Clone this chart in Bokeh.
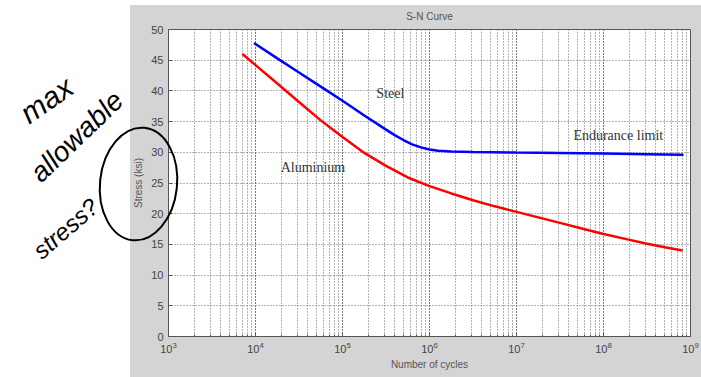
from bokeh.plotting import figure
from bokeh.models import Label, FixedTicker, LogTicker, Range1d, Row, Div
from bokeh.embed import file_html
from bokeh.resources import INLINE

# ---- data ----
steel_cycles = [9.6e3, 1.78e4, 3.16e4, 5.62e4, 1.0e5, 1.78e5, 3.16e5, 3.98e5, 5.01e5, 6.31e5,
                7.94e5, 1.0e6, 1.26e6, 1.78e6, 3.16e6, 1.0e7, 3.16e7, 1.0e8, 3.16e8, 8.3e8]
steel_stress = [47.8, 45.3, 43.0, 40.7, 38.4, 36.0, 33.7, 32.8, 32.0, 31.3,
                30.8, 30.45, 30.27, 30.15, 30.05, 29.95, 29.9, 29.8, 29.7, 29.6]

alu_cycles = [7.08e3, 1.0e4, 1.78e4, 3.16e4, 5.62e4, 1.0e5, 1.78e5, 3.16e5, 5.62e5, 1.0e6,
              1.78e6, 3.16e6, 5.62e6, 1.0e7, 1.78e7, 3.16e7, 5.62e7, 1.0e8, 1.78e8, 3.16e8,
              5.62e8, 8.1e8]
alu_stress = [46.0, 44.2, 41.2, 38.2, 35.2, 32.5, 29.9, 27.8, 25.9, 24.5,
              23.3, 22.2, 21.2, 20.3, 19.4, 18.5, 17.6, 16.7, 15.9, 15.1,
              14.4, 14.0]

y_ticks = [0, 5, 10, 15, 20, 25, 30, 35, 40, 45, 50]

curve_labels = ["Steel", "Endurance limit", "Aluminium"]
note_words = ["max", "allowable", "stress?"]

W, H = 701, 377
PANEL = "#d4d4d4"
GRID = "#666666"

# ---------------- main chart ----------------
p = figure(width=W, height=H, x_axis_type="log",
           x_range=Range1d(1e3, 1e9), y_range=Range1d(0, 50),
           output_backend="svg", toolbar_location=None,
           min_border_left=168, min_border_right=11, min_border_top=28, min_border_bottom=41,
           border_fill_color=PANEL, background_fill_color="white")
p.outline_line_color = "#555555"

p.title.text = "S-N Curve"
p.title.align = "center"
p.title.text_font = "Liberation Sans"
p.title.text_font_size = "10px"
p.title.text_font_style = "normal"
p.title.text_color = "#555555"
p.title.offset = -6
p.title.standoff = 16

p.xaxis.ticker = LogTicker(num_minor_ticks=10)
p.yaxis.ticker = FixedTicker(ticks=y_ticks)
for ax in (p.xaxis[0], p.yaxis[0]):
    ax.major_tick_in = 4
    ax.major_tick_out = 0
    ax.minor_tick_in = 2
    ax.minor_tick_out = 0
    ax.axis_line_color = "#555555"
    ax.major_tick_line_color = "#555555"
    ax.minor_tick_line_color = "#555555"
    ax.major_label_text_font = "Liberation Sans"
    ax.major_label_text_font_size = "11px"
    ax.major_label_text_color = "#444444"
    ax.axis_label_text_font = "Liberation Sans"
    ax.axis_label_text_font_size = "10px"
    ax.axis_label_text_font_style = "normal"
    ax.axis_label_text_color = "#555555"
p.yaxis.minor_tick_line_color = None
p.xaxis.axis_label = "Number of cycles"
p.yaxis.axis_label = "Stress (ksi)"
p.xaxis.major_label_standoff = 5
p.yaxis.major_label_standoff = 5
p.xaxis.axis_label_standoff = 3
p.yaxis.axis_label_standoff = 4

p.xgrid.grid_line_color = GRID
p.xgrid.grid_line_dash = "1 2"
p.xgrid.minor_grid_line_color = GRID
p.xgrid.minor_grid_line_dash = "1 2"
p.ygrid.grid_line_color = GRID
p.ygrid.grid_line_dash = "1 2"

p.line(steel_cycles, steel_stress, line_color="#0000ff", line_width=2.5)
p.line(alu_cycles, alu_stress, line_color="#ff0000", line_width=2.5)

for txt, x, y in zip(curve_labels, [3.55e5, 1.48e8, 4.57e4], [39.5, 32.8, 27.5]):
    p.add_layout(Label(x=x, y=y, text=txt, text_font="Liberation Serif", text_font_size="14px",
                       text_color="#333333", text_align="center", text_baseline="middle"))

# ---------------- handwritten note, overlaid on the page ----------------
words_svg = ""
for word, (x, y, rot, fs) in zip(note_words, [(48, 102, -35, 30), (78, 138, -44, 28), (67, 230, -41, 24)]):
    words_svg += (f'<text x="{x}" y="{y}" transform="rotate({rot} {x} {y})" '
                  f'font-family="Liberation Sans" font-style="italic" font-size="{fs}" '
                  f'fill="black" text-anchor="middle" dominant-baseline="middle">{word}</text>')

svg = (f'<svg xmlns="http://www.w3.org/2000/svg" width="{W}" height="{H}" style="display:block">'
       f'<rect x="0" y="0" width="130" height="{H}" fill="white"/>'
       f'<rect x="0" y="0" width="{W}" height="5" fill="white"/>'
       f'{words_svg}'
       f'<ellipse cx="138.5" cy="184" rx="38.5" ry="56.5" transform="rotate(6 138.5 184)" '
       f'fill="none" stroke="black" stroke-width="2"/>'
       f'</svg>')

note = Div(text=svg, width=W, height=H, margin=(0, 0, 0, -W),
           styles={"pointer-events": "none", "z-index": "5"})

layout = Row(children=[p, note])
open("out.html", "w").write(file_html(layout, INLINE))
